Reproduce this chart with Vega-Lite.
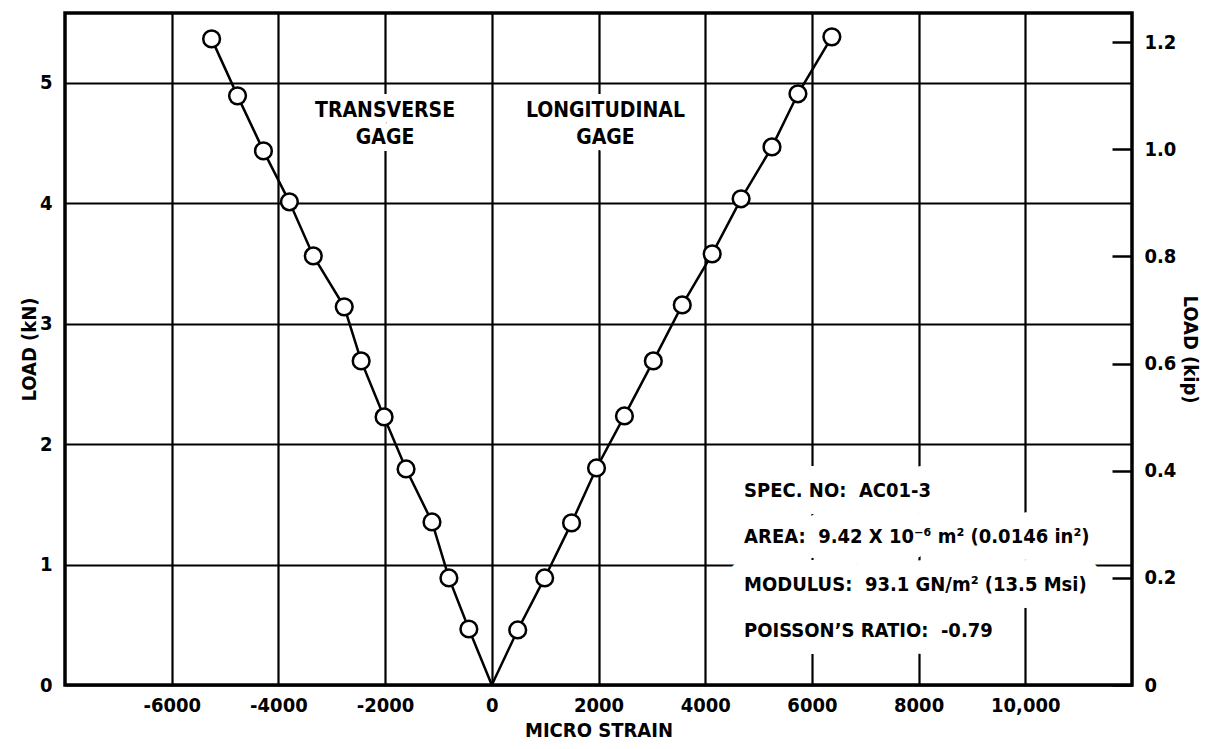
{
  "$schema": "https://vega.github.io/schema/vega-lite/v6.json",
  "width": 1067,
  "height": 672,
  "autosize": {"type": "none"},
  "padding": {"left": 65, "top": 13, "right": 77, "bottom": 64},
  "background": "white",
  "config": {
    "view": {"stroke": "black", "strokeWidth": 3.5},
    "font": "DejaVu Sans Condensed",
    "axis": {
      "labelFont": "DejaVu Sans Condensed",
      "labelFontSize": 20,
      "labelFontWeight": "bold",
      "labelColor": "black",
      "titleFont": "DejaVu Sans Condensed",
      "titleFontSize": 20,
      "titleFontWeight": "bold",
      "titleColor": "black",
      "domain": false,
      "gridColor": "black",
      "gridWidth": 2.2,
      "gridOpacity": 1
    }
  },
  "datasets": {
    "strain": [
      {"gage": "Transverse", "strain": 0, "load": 0},
      {"gage": "Transverse", "strain": -430, "load": 0.465},
      {"gage": "Transverse", "strain": -804, "load": 0.889},
      {"gage": "Transverse", "strain": -1121, "load": 1.354},
      {"gage": "Transverse", "strain": -1607, "load": 1.794},
      {"gage": "Transverse", "strain": -2019, "load": 2.226},
      {"gage": "Transverse", "strain": -2449, "load": 2.691},
      {"gage": "Transverse", "strain": -2766, "load": 3.14},
      {"gage": "Transverse", "strain": -3346, "load": 3.563},
      {"gage": "Transverse", "strain": -3794, "load": 4.012},
      {"gage": "Transverse", "strain": -4280, "load": 4.435},
      {"gage": "Transverse", "strain": -4766, "load": 4.892},
      {"gage": "Transverse", "strain": -5252, "load": 5.365},
      {"gage": "Longitudinal", "strain": 0, "load": 0},
      {"gage": "Longitudinal", "strain": 486, "load": 0.457},
      {"gage": "Longitudinal", "strain": 991, "load": 0.889},
      {"gage": "Longitudinal", "strain": 1495, "load": 1.346},
      {"gage": "Longitudinal", "strain": 1963, "load": 1.802},
      {"gage": "Longitudinal", "strain": 2486, "load": 2.234},
      {"gage": "Longitudinal", "strain": 3028, "load": 2.691},
      {"gage": "Longitudinal", "strain": 3570, "load": 3.156},
      {"gage": "Longitudinal", "strain": 4131, "load": 3.58},
      {"gage": "Longitudinal", "strain": 4673, "load": 4.037},
      {"gage": "Longitudinal", "strain": 5252, "load": 4.468},
      {"gage": "Longitudinal", "strain": 5738, "load": 4.909},
      {"gage": "Longitudinal", "strain": 6374, "load": 5.382}
    ],
    "gageLabels": [
      {"text": "TRANSVERSE", "strain": -2000, "load": 4.718},
      {"text": "GAGE", "strain": -2000, "load": 4.493},
      {"text": "LONGITUDINAL", "strain": 2130, "load": 4.718},
      {"text": "GAGE", "strain": 2130, "load": 4.493}
    ],
    "notes": [
      {"text": "SPEC. NO:\u00a0 AC01-3", "strain": 4729, "load": 1.561},
      {"text": "AREA:\u00a0 9.42 X 10\u207b\u2076 m\u00b2 (0.0146 in\u00b2)", "strain": 4729, "load": 1.179},
      {"text": "MODULUS:\u00a0 93.1 GN/m\u00b2 (13.5 Msi)", "strain": 4729, "load": 0.781},
      {"text": "POISSON\u2019S RATIO:\u00a0 -0.79", "strain": 4729, "load": 0.399}
    ]
  },
  "layer": [
    {
      "layer": [
        {
          "data": {"name": "strain"},
          "mark": {"type": "line", "color": "black", "strokeWidth": 2.5},
          "encoding": {
            "x": {
              "field": "strain",
              "type": "quantitative",
              "scale": {"domain": [-8000, 12000], "nice": false, "zero": false},
              "axis": {
                "values": [-6000, -4000, -2000, 0, 2000, 4000, 6000, 8000, 10000],
                "labelExpr": "datum.value == 10000 ? '10,000' : '' + datum.value",
                "grid": true,
                "ticks": false,
                "labelPadding": 10,
                "title": "MICRO STRAIN",
                "titlePadding": 5
              }
            },
            "y": {
              "field": "load",
              "type": "quantitative",
              "scale": {"domain": [0, 5.58], "nice": false, "zero": true},
              "axis": {
                "values": [0, 1, 2, 3, 4, 5],
                "format": "d",
                "grid": true,
                "ticks": false,
                "labelPadding": 13,
                "title": "LOAD (kN)",
                "titlePadding": 0
              }
            },
            "detail": {"field": "gage"},
            "order": {"field": "load", "type": "quantitative"}
          }
        },
        {
          "data": {"name": "strain"},
          "transform": [{"filter": "datum.load > 0"}],
          "mark": {"type": "point", "shape": "circle", "filled": true, "fill": "white", "stroke": "black", "strokeWidth": 2.5, "size": 280, "opacity": 1},
          "encoding": {
            "x": {"field": "strain", "type": "quantitative"},
            "y": {"field": "load", "type": "quantitative"}
          }
        },
        {
          "data": {"name": "gageLabels"},
          "mark": {"type": "text", "align": "center", "baseline": "alphabetic", "font": "DejaVu Sans Condensed", "fontSize": 21, "fontWeight": "bold", "color": "white", "stroke": "white", "strokeWidth": 14, "strokeJoin": "round"},
          "encoding": {
            "x": {"field": "strain", "type": "quantitative"},
            "y": {"field": "load", "type": "quantitative"},
            "text": {"field": "text"}
          }
        },
        {
          "data": {"name": "gageLabels"},
          "mark": {"type": "text", "align": "center", "baseline": "alphabetic", "font": "DejaVu Sans Condensed", "fontSize": 21, "fontWeight": "bold", "color": "black"},
          "encoding": {
            "x": {"field": "strain", "type": "quantitative"},
            "y": {"field": "load", "type": "quantitative"},
            "text": {"field": "text"}
          }
        },
        {
          "data": {"name": "notes"},
          "mark": {"type": "text", "align": "left", "baseline": "alphabetic", "font": "DejaVu Sans Condensed", "fontSize": 20, "fontWeight": "bold", "color": "white", "stroke": "white", "strokeWidth": 34, "strokeJoin": "round"},
          "encoding": {
            "x": {"field": "strain", "type": "quantitative"},
            "y": {"field": "load", "type": "quantitative"},
            "text": {"field": "text"}
          }
        },
        {
          "data": {"name": "notes"},
          "mark": {"type": "text", "align": "left", "baseline": "alphabetic", "font": "DejaVu Sans Condensed", "fontSize": 20, "fontWeight": "bold", "color": "black"},
          "encoding": {
            "x": {"field": "strain", "type": "quantitative"},
            "y": {"field": "load", "type": "quantitative"},
            "text": {"field": "text"}
          }
        }
      ]
    },
    {
      "data": {"values": [{"kip": 0}]},
      "mark": {"type": "point", "opacity": 0},
      "encoding": {
        "y": {
          "field": "kip",
          "type": "quantitative",
          "scale": {"domain": [0, 1.2545], "nice": false, "zero": true},
          "axis": {
            "orient": "right",
            "values": [0, 0.2, 0.4, 0.6, 0.8, 1.0, 1.2],
            "labelExpr": "datum.value == 0 ? '0' : format(datum.value, '.1f')",
            "grid": false,
            "ticks": true,
            "tickSize": -20,
            "tickWidth": 2.5,
            "tickColor": "black",
            "labelPadding": 32,
            "title": "LOAD (kip)",
            "titlePadding": 4
          }
        }
      }
    }
  ],
  "resolve": {"scale": {"y": "independent"}}
}
